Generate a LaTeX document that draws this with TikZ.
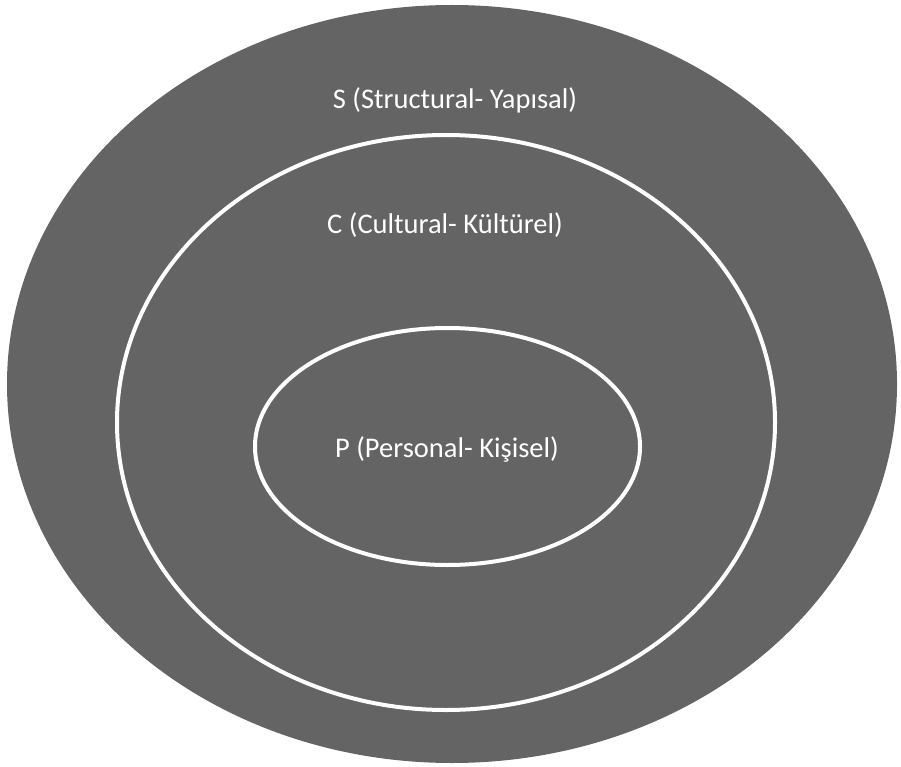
\documentclass[tikz,border=0pt]{standalone}
\usepackage{fontspec}
\setmainfont{Carlito}
\usetikzlibrary{shapes.geometric}
\definecolor{ringgray}{RGB}{100,100,100}
\tikzset{
  ring/.style={ellipse, draw=white, line width=4pt, inner sep=0pt},
  label/.style={text=white, font=\fontsize{28.5}{34}\selectfont, inner sep=0pt}
}
\begin{document}
\begin{tikzpicture}[x=1pt,y=-1pt]
\useasboundingbox (0,0) rectangle (901,767);
\node[ellipse, fill=ringgray, inner sep=0pt, minimum width=890pt, minimum height=758pt] (outer) at (452,384) {};
\node[ring, minimum width=658pt, minimum height=575pt] (middle) at (446,422.5) {};
\node[ring, minimum width=385pt, minimum height=237pt] (inner) at (447.5,446.5) {};
\node[label] (s) at (455,100) {S (Structural- Yapısal)};
\node[label] (c) at (445,225) {C (Cultural- Kültürel)};
\node[label] (p) at (447,449) {P (Personal- Kişisel)};
\end{tikzpicture}
\end{document}
